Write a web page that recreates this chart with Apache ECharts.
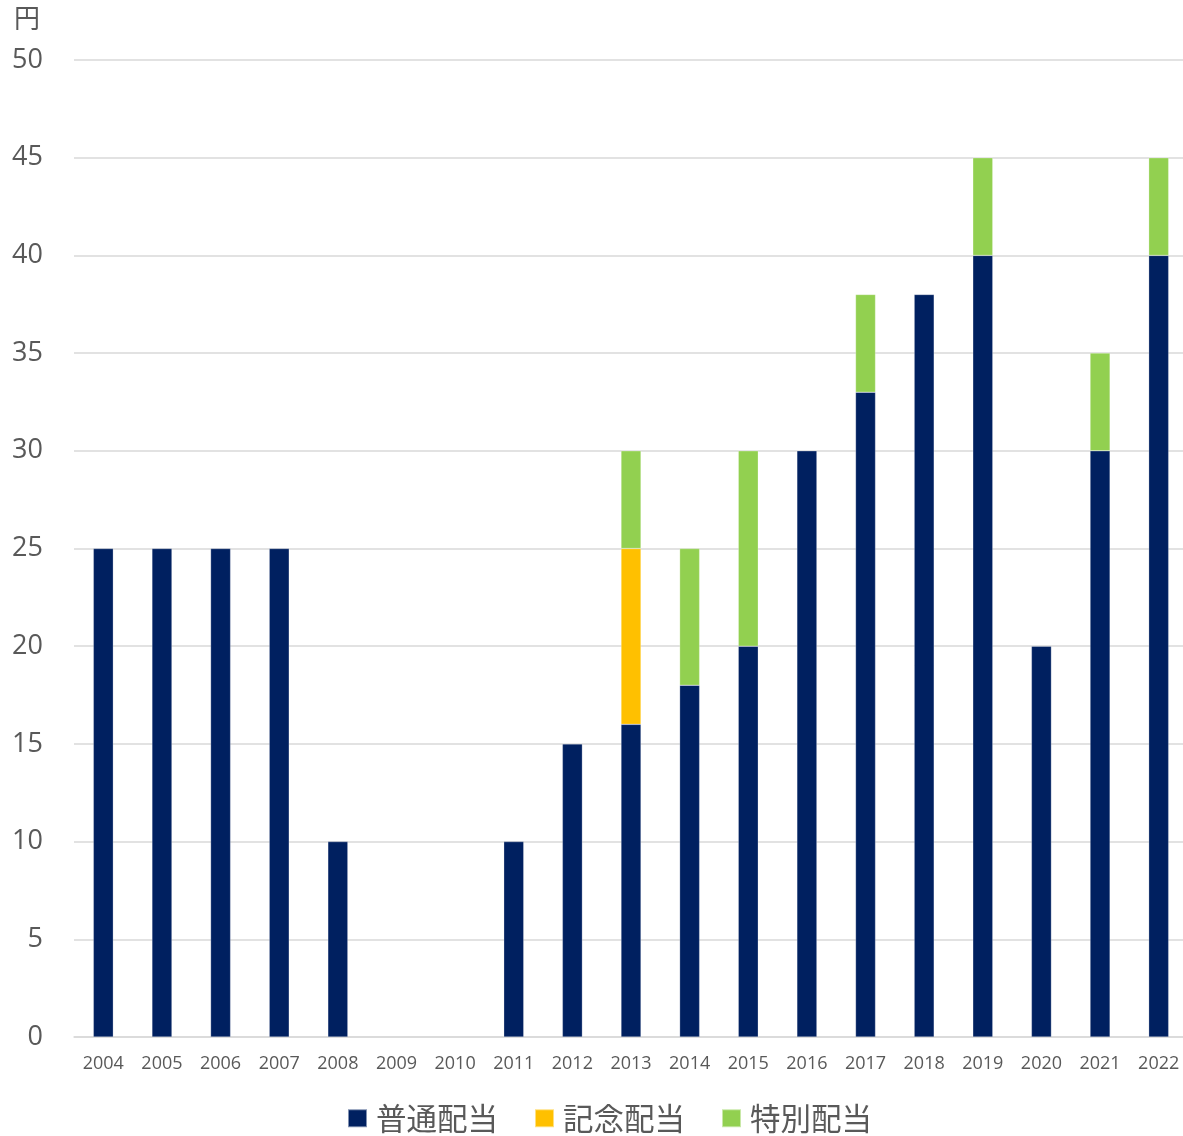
<!DOCTYPE html>
<html>
<head>
<meta charset="utf-8">
<script src="https://cdn.jsdelivr.net/npm/echarts@6/dist/echarts.min.js"></script>
<style>
html,body{margin:0;padding:0;background:#fff;}
#chart{width:1183px;height:1136px;}
</style>
</head>
<body>
<div id="chart"></div>
<script>
const years = ['2004','2005','2006','2007','2008','2009','2010','2011','2012','2013','2014','2015','2016','2017','2018','2019','2020','2021','2022'];
const regular = [25,25,25,25,10,null,null,10,15,16,18,20,30,33,38,40,20,30,40];
const commemorative = [null,null,null,null,null,null,null,null,null,9,null,null,null,null,null,null,null,null,null];
const special = [null,null,null,null,null,null,null,null,null,5,7,10,null,5,null,5,null,5,5];
const seriesNames = ['普通配当','記念配当','特別配当'];
const yTicks = [0,5,10,15,20,25,30,35,40,45,50];
const unitLabel = '円';

const fontFamily = '"Open Sans","Noto Sans CJK JP",sans-serif';
const textColor = '#595959';
const colors = ['#002060','#FFC000','#92D050'];

const chart = echarts.init(document.getElementById('chart'));
const mk = (name, data, color) => ({
  name, type: 'bar', stack: 'total', data, barWidth: 20,
  itemStyle: {color, borderColor: 'rgba(255,255,255,0.5)', borderWidth: 0.5},
  animation: false
});
chart.setOption({
  animation: false,
  textStyle: {fontFamily},
  title: {text: unitLabel, left: 9, top: 0, textStyle: {fontSize: 26, fontWeight: 'normal', color: textColor, fontFamily: '"Noto Sans CJK JP",sans-serif'}},
  grid: {left: 74, right: -5, top: 60, bottom: 99, containLabel: false, outerBoundsMode: 'none'},
  legend: {
    data: seriesNames, left: 347, top: 1103, padding: 0, itemWidth: 19, itemHeight: 18, itemGap: 36,
    icon: 'rect',
    textStyle: {fontSize: 30.5, color: textColor, fontFamily: '"Noto Sans CJK JP",sans-serif', padding: [0,0,0,4]}
  },
  xAxis: {
    type: 'category', data: years,
    axisLine: {lineStyle: {color: '#D9D9D9', width: 1.5}},
    axisTick: {show: false},
    axisLabel: {fontSize: 18, color: textColor, margin: 18}
  },
  yAxis: {
    type: 'value', min: yTicks[0], max: yTicks[yTicks.length-1], interval: yTicks[1]-yTicks[0],
    axisLine: {show: false}, axisTick: {show: false},
    axisLabel: {fontSize: 27, color: textColor, margin: 31},
    splitLine: {lineStyle: {color: '#D9D9D9', width: 1.5}}
  },
  series: [
    mk(seriesNames[0], regular, colors[0]),
    mk(seriesNames[1], commemorative, colors[1]),
    mk(seriesNames[2], special, colors[2])
  ]
});
</script>
</body>
</html>
